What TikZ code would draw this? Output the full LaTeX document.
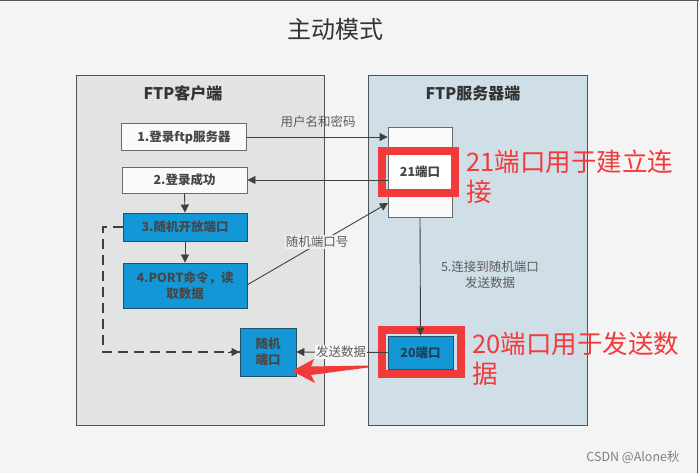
\documentclass[tikz,border=0pt]{standalone}
\usepackage{fontspec}
\setmainfont{Noto Sans CJK SC}
\usetikzlibrary{arrows.meta,calc}
\definecolor{bg}{HTML}{F3F4F3}
\definecolor{clientbg}{HTML}{E2E3E3}
\definecolor{serverbg}{HTML}{D0DEE7}
\definecolor{panelline}{HTML}{4F5355}
\definecolor{boxline}{HTML}{6A6A6A}
\definecolor{bluefill}{HTML}{1497D6}
\definecolor{blueline}{HTML}{27506A}
\definecolor{txt}{HTML}{333333}
\definecolor{arr}{HTML}{3F3F3F}
\definecolor{hl}{HTML}{F23A3A}
\tikzset{
  panel/.style={draw=panelline, line width=1.2pt, anchor=north west, inner sep=0pt},
  wbox/.style={draw=boxline, fill=white!96!gray, line width=0.9pt, inner sep=0pt, text=txt!90,
    font=\bfseries\fontsize{12.5}{16}\selectfont},
  bbox/.style={draw=blueline, fill=bluefill, line width=0.9pt, inner sep=0pt, text=txt!90,
    font=\bfseries\fontsize{12.5}{16}\selectfont, align=center},
  conn/.style={draw=arr, line width=0.9pt, -{Triangle[length=8pt,width=8pt]}},
  lbl/.style={text=txt!80, font=\fontsize{12.5}{16}\selectfont, inner sep=1pt},
  redbox/.style={draw=hl, line width=8pt, inner sep=0pt},
  redtxt/.style={text=hl, font=\fontsize{25.5}{30}\selectfont, anchor=west, align=left, inner sep=0pt},
}
\begin{document}
\begin{tikzpicture}[x=1pt,y=-1pt]
\useasboundingbox (0,0) rectangle (699,473);
\fill[bg] (0,0) rectangle (699,473);
\draw[gray!70!black, line width=1.5pt] (0,0.75) -- (699,0.75);
\draw[gray!70!black, line width=1pt] (697.5,0) -- (697.5,473);
% title
\node[text=txt, font=\fontsize{24}{28}\selectfont] (title) at (335,29) {主动模式};
% panels
\node[panel, fill=clientbg, minimum width=248pt, minimum height=350pt] (client) at (76,75) {};
\node[panel, fill=serverbg, minimum width=219pt, minimum height=350pt] (server) at (368,75) {};
\node[text=txt, font=\bfseries\fontsize{16}{20}\selectfont] (ctitle) at (183,93) {FTP客户端};
\node[text=txt, font=\bfseries\fontsize{16}{20}\selectfont] (stitle) at (473,93) {FTP服务器端};
% client boxes
\node[wbox, minimum width=125pt, minimum height=27pt] (b1) at (184,137) {1.登录ftp服务器};
\node[wbox, minimum width=125pt, minimum height=26pt] (b2) at (184.5,180) {2.登录成功};
\node[bbox, minimum width=124pt, minimum height=28pt] (b3) at (185,227) {3.随机开放端口};
\node[bbox, minimum width=124pt, minimum height=45pt] (b4) at (185,285.5) {4.PORT命令，读\\取数据};
\node[bbox, minimum width=56pt, minimum height=48pt] (rp) at (268,352) {随机\\端口};
% server boxes
\node[wbox, minimum width=64pt, minimum height=90pt] (s21) at (420,172) {};
\node[wbox, draw=none, fill=white, minimum width=62pt, minimum height=30pt] (l21) at (420,172) {21端口};
\node[bbox, minimum width=65pt, minimum height=33pt, text=blueline!80!black] (s20) at (420.5,352.5) {20端口};
% red highlights
\node[redbox, minimum width=73pt, minimum height=42pt] (r21) at (418.5,172) {};
\node[redbox, minimum width=79pt, minimum height=44pt] (r20) at (421.5,352) {};
\node[redtxt] (t21) at (466,177) {21端口用于建立连\\接};
\node[redtxt] (t20) at (472,359) {20端口用于发送数\\据};
% connectors
\draw[conn] (b1.east) -- (b1.east -| s21.west);
\node[lbl] (u1) at (318,122) {用户名和密码};
\draw[conn] (b2.east -| s21.west) -- (b2.east);
\coordinate (p3) at (388,203);
\coordinate (p4) at (247,285);
\draw[conn] (p4) -- (p3);
\node[lbl, fill=bg, fill opacity=0.85, text opacity=1] (u2) at (317,242) {随机端口号};
\draw[conn] (b2.south) -- (b3.north);
\draw[conn] (b3.south) -- (b4.north);
\coordinate (d1) at (103,227);
\coordinate (d2) at (103,352);
\draw[draw=arr, line width=1.1pt, dash pattern=on 10pt off 6pt] (b3.west) -- (d1) -- (d2) -- (rp.west);
\draw[conn] ($(d2)+(125,0)$) -- (rp.west);
\draw[conn] (s21.south) -- (s20.north);
\node[lbl, align=center] (u5) at (490,275) {5.连接到随机端口\\发送数据};
\draw[conn] (s20.west) -- (rp.east);
\node[lbl, fill=bg!60!white] (u3) at (341,352) {发送数据};
% red arrow
\fill[hl] (292,371) -- (314,359) -- (311,366.5) -- (368,365.5) -- (368,367.5) -- (311,375) -- (315,383) -- cycle;
% watermark
\node[text=gray, font=\fontsize{12.5}{15}\selectfont] (wm) at (633,457) {CSDN @Alone秋};
\end{tikzpicture}
\end{document}
